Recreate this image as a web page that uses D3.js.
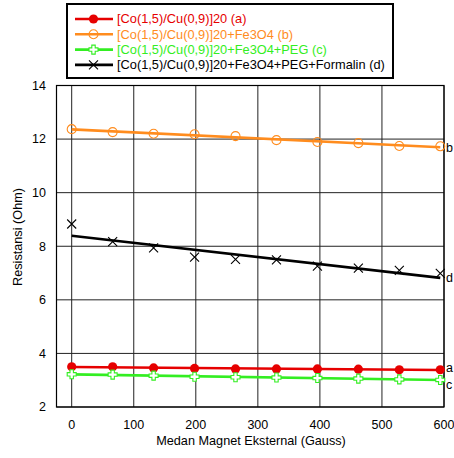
<!DOCTYPE html>
<html><head><meta charset="utf-8">
<script src="https://cdn.jsdelivr.net/npm/d3@7"></script>
<style>body{margin:0;background:#fff}svg{display:block;font-family:"Liberation Sans",Arial,sans-serif}</style>
</head><body><div id="chart"></div>
<script>
const fieldGauss = [0, 66, 132, 198, 264, 330, 396, 462, 528, 594];
const seriesA = [3.50, 3.50, 3.46, 3.44, 3.42, 3.42, 3.42, 3.41, 3.39, 3.39];
const seriesB = [12.37, 12.26, 12.20, 12.18, 12.11, 11.96, 11.89, 11.85, 11.74, 11.73];
const seriesC = [3.22, 3.21, 3.17, 3.13, 3.11, 3.10, 3.08, 3.06, 3.03, 3.01];
const seriesD = [8.83, 8.17, 7.94, 7.59, 7.51, 7.49, 7.26, 7.18, 7.10, 6.99];
const seriesNames = ["[Co(1,5)/Cu(0,9)]20 (a)", "[Co(1,5)/Cu(0,9)]20+Fe3O4 (b)", "[Co(1,5)/Cu(0,9)]20+Fe3O4+PEG (c)", "[Co(1,5)/Cu(0,9)]20+Fe3O4+PEG+Formalin (d)"];
const seriesTags = ["a", "b", "c", "d"];
const xTicks = [0, 100, 200, 300, 400, 500, 600];
const yTicks = [2, 4, 6, 8, 10, 12, 14];

const colors = ["#e60000", "#ff8c1e", "#33ee22", "#000000"];
const markers = ["dot", "ring", "plus", "cross"];
const allSeries = [seriesA, seriesB, seriesC, seriesD].map((vals, i) => ({
  name: seriesNames[i], tag: seriesTags[i], color: colors[i], marker: markers[i],
  pts: vals.map((v, j) => ({x: fieldGauss[j], y: v}))
}));

const W = 454, H = 458;
const m = {left: 56.5, right: 10, top: 85.5, bottom: 51};
const svg = d3.select("#chart").append("svg").attr("width", W).attr("height", H);
const x = d3.scaleLinear().domain([-24.5, 600]).range([m.left, W - m.right]);
const y = d3.scaleLinear().domain([2, 14]).range([H - m.bottom, m.top]);

// grid
const g = svg.append("g");
g.selectAll(".vg").data(xTicks).join("line")
  .attr("x1", d => x(d)).attr("x2", d => x(d)).attr("y1", y(2)).attr("y2", y(14))
  .attr("stroke", "#222").attr("stroke-width", 1);
g.selectAll(".hg").data(yTicks).join("line")
  .attr("x1", x(-24.5)).attr("x2", x(600)).attr("y1", d => y(d)).attr("y2", d => y(d))
  .attr("stroke", "#222").attr("stroke-width", 1);
g.append("rect").attr("x", x(-24.5)).attr("y", y(14)).attr("width", x(600) - x(-24.5)).attr("height", y(2) - y(14))
  .attr("fill", "none").attr("stroke", "#000").attr("stroke-width", 1.2);

// axes labels
svg.append("g").selectAll("text").data(yTicks).join("text")
  .attr("x", 46).attr("y", d => y(d)).attr("dy", "0.35em").attr("text-anchor", "end")
  .attr("font-size", 12.5).text(d => d);
svg.append("g").selectAll("text").data(xTicks).join("text")
  .attr("x", d => x(d)).attr("y", 425).attr("dy", "0.35em").attr("text-anchor", "middle")
  .attr("font-size", 12.5).text(d => d);
svg.append("text").attr("x", 251).attr("y", 441).attr("dy", "0.35em").attr("text-anchor", "middle")
  .attr("font-size", 12.7).text("Medan Magnet Eksternal (Gauss)");
svg.append("text").attr("transform", "translate(18,237) rotate(-90)").attr("dy", "0.35em")
  .attr("text-anchor", "middle").attr("font-size", 12.7).text("Resistansi (Ohm)");

function fit(pts) {
  const mx = d3.mean(pts, p => p.x), my = d3.mean(pts, p => p.y);
  const sxy = d3.sum(pts, p => (p.x - mx) * (p.y - my)), sxx = d3.sum(pts, p => (p.x - mx) ** 2);
  const b = sxy / sxx, a = my - b * mx;
  return [pts[0].x, pts[pts.length - 1].x].map(xx => ({x: xx, y: a + b * xx}));
}

function drawMarker(sel, type, color) {
  if (type === "dot") sel.append("circle").attr("r", 4.6).attr("fill", color);
  else if (type === "ring") sel.append("circle").attr("r", 4.5).attr("fill", "none").attr("stroke", color).attr("stroke-width", 1.1);
  else if (type === "plus") sel.append("path")
    .attr("d", "M-1.7,-4.5H1.7V-1.7H4.5V1.7H1.7V4.5H-1.7V1.7H-4.5V-1.7H-1.7Z")
    .attr("fill", "#fff").attr("stroke", color).attr("stroke-width", 1.1);
  else sel.append("path").attr("d", "M-4.5,-4.5L4.5,4.5M-4.5,4.5L4.5,-4.5").attr("stroke", color).attr("stroke-width", 1.1).attr("fill", "none");
}

const line = d3.line().x(d => x(d.x)).y(d => y(d.y));
const order = [1, 3, 0, 2];
order.forEach(i => {
  const s = allSeries[i];
  const f = fit(s.pts);
  svg.append("path").attr("d", line(f)).attr("fill", "none").attr("stroke", s.color).attr("stroke-width", 2.6);
  s.fitEnd = f[1];
});
order.forEach(i => {
  const s = allSeries[i];
  svg.append("g").selectAll("g").data(s.pts).join("g")
    .attr("transform", d => `translate(${x(d.x)},${y(d.y)})`)
    .each(function() { drawMarker(d3.select(this), s.marker, s.color); });
});
// end labels
const tagOffsets = {a: -2, b: 0, c: 5, d: 0};
allSeries.forEach(s => {
  svg.append("text").attr("x", 446).attr("y", y(s.fitEnd.y) + tagOffsets[s.tag])
    .attr("dy", "0.35em").attr("font-size", 12.5).text(s.tag);
});

// legend
const lg = svg.append("g");
lg.append("rect").attr("x", 67).attr("y", 4).attr("width", 326).attr("height", 74)
  .attr("fill", "#fff").attr("stroke", "#000").attr("stroke-width", 2);
allSeries.forEach((s, i) => {
  const yy = 19 + i * 15.3;
  lg.append("line").attr("x1", 75).attr("x2", 113).attr("y1", yy).attr("y2", yy).attr("stroke", s.color).attr("stroke-width", 2.6);
  drawMarker(lg.append("g").attr("transform", `translate(93.5,${yy})`), s.marker, s.color);
  lg.append("text").attr("x", 117).attr("y", yy).attr("dy", "0.35em").attr("font-size", 12.8)
    .attr("fill", s.color).text(s.name);
});
</script></body></html>
